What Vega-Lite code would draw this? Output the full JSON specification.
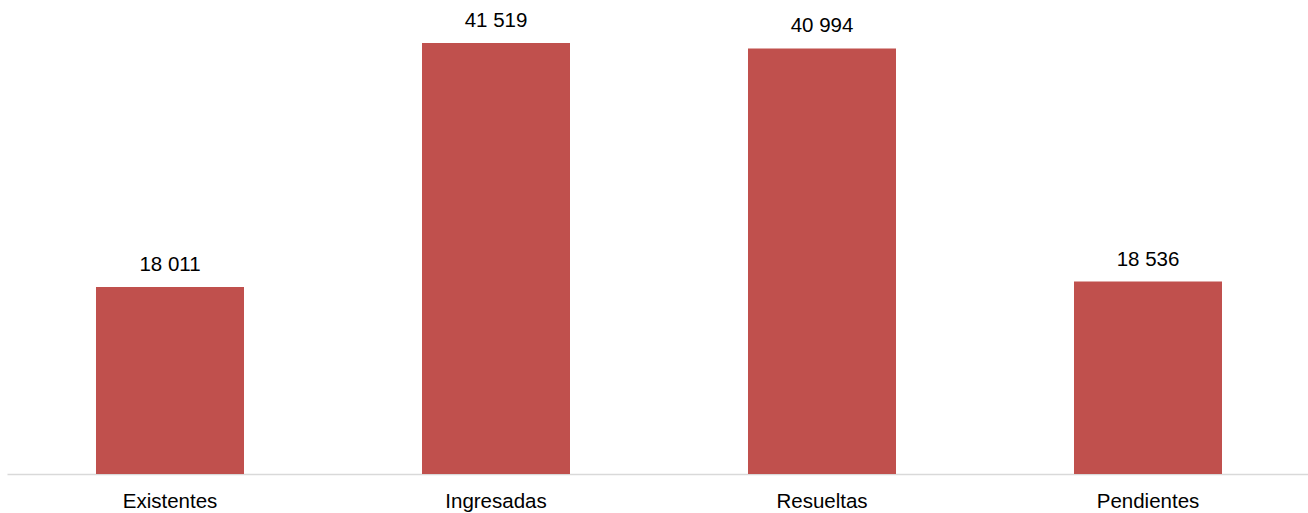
{
  "$schema": "https://vega.github.io/schema/vega-lite/v6.json",
  "width": 1304,
  "height": 474,
  "autosize": {"type": "none"},
  "padding": {"left": 7, "top": 0, "right": 0, "bottom": 39},
  "background": "white",
  "config": {
    "view": {"stroke": null},
    "font": "Liberation Sans",
    "locale": {"number": {"decimal": ",", "thousands": " ", "grouping": [3], "currency": ["", ""]}}
  },
  "data": {
    "values": [
      {"categoria": "Existentes", "valor": 18011},
      {"categoria": "Ingresadas", "valor": 41519},
      {"categoria": "Resueltas", "valor": 40994},
      {"categoria": "Pendientes", "valor": 18536}
    ]
  },
  "encoding": {
    "x": {
      "field": "categoria",
      "type": "nominal",
      "sort": null,
      "scale": {"paddingInner": 0.546, "paddingOuter": 0.273},
      "axis": {
        "title": null,
        "labelAngle": 0,
        "labelFontSize": 20.5,
        "labelColor": "#000000",
        "labelBaseline": "alphabetic",
        "labelPadding": 33,
        "ticks": false,
        "domainColor": "#d9d9d9",
        "domainWidth": 1.5,
        "grid": false
      }
    },
    "y": {
      "field": "valor",
      "type": "quantitative",
      "scale": {"domain": [0, 45660], "nice": false},
      "axis": null
    }
  },
  "layer": [
    {"mark": {"type": "bar", "color": "#c0504d"}},
    {
      "mark": {"type": "text", "baseline": "alphabetic", "dy": -16, "fontSize": 20.5, "color": "#000000"},
      "encoding": {"text": {"field": "valor", "type": "quantitative", "format": ",d"}}
    }
  ]
}
